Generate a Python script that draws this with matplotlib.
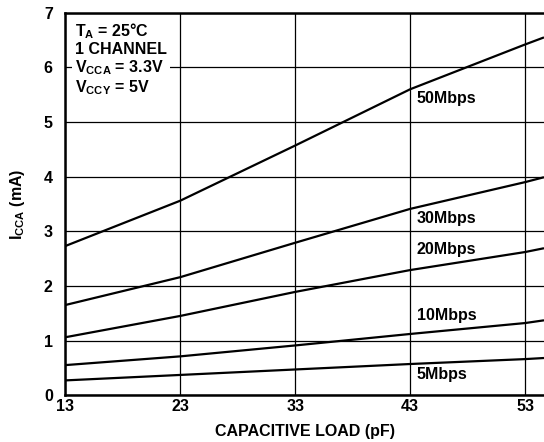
import matplotlib
matplotlib.use("Agg")
import matplotlib.pyplot as plt

plt.rcParams['font.family'] = ['Liberation Sans', 'DejaVu Sans']
plt.rcParams['font.weight'] = 'bold'
plt.rcParams['mathtext.fontset'] = 'custom'
plt.rcParams['mathtext.rm'] = 'Liberation Sans:bold'
plt.rcParams['mathtext.bf'] = 'Liberation Sans:bold'
plt.rcParams['mathtext.it'] = 'Liberation Sans:bold'
plt.rcParams['mathtext.default'] = 'rm'

# Kapazitive Last (pF) und Stromaufnahme (mA) je Datenrate
load_pf = [13, 23, 33, 43, 53, 54.65]
icc_50 = [2.73, 3.56, 4.57, 5.60, 6.42, 6.55]
icc_30 = [1.65, 2.16, 2.79, 3.41, 3.90, 3.99]
icc_20 = [1.06, 1.45, 1.89, 2.29, 2.62, 2.69]
icc_10 = [0.55, 0.71, 0.91, 1.12, 1.32, 1.37]
icc_5 = [0.27, 0.37, 0.47, 0.57, 0.66, 0.68]

series = [icc_50, icc_30, icc_20, icc_10, icc_5]
labels = ['50Mbps', '30Mbps', '20Mbps', '10Mbps', '5Mbps']
label_y = [5.44, 3.24, 2.66, 1.45, 0.37]

x_ticks = [13, 23, 33, 43, 53]
y_ticks = [0, 1, 2, 3, 4, 5, 6, 7]

fig = plt.figure(figsize=(5.44, 4.42), dpi=100)
ax = fig.add_axes([0.12, 0.106, 0.88, 0.865])

for vals in series:
    ax.plot(load_pf, vals, color='black', lw=1.6, solid_capstyle='butt')

for lab, yy in zip(labels, label_y):
    ax.text(43.6, yy, lab, fontsize=11.5, fontweight='bold', va='center', ha='left')

ax.set_xlim(13, 54.65)
ax.set_ylim(0, 7)
ax.set_xticks(x_ticks)
ax.set_yticks(y_ticks)
ax.grid(True, color='black', lw=0.9)
ax.tick_params(length=0, labelsize=11.5)
ax.tick_params(axis='x', pad=3)
ax.tick_params(axis='y', pad=9)
for lab in ax.get_xticklabels() + ax.get_yticklabels():
    lab.set_fontweight('bold')

for side in ['left', 'bottom', 'top']:
    ax.spines[side].set_linewidth(1.8)
ax.spines['right'].set_visible(False)

ax.set_xlabel('CAPACITIVE LOAD (pF)', fontsize=11.5, fontweight='bold', labelpad=7)
ax.set_ylabel('I$_{CCA}$ (mA)', fontsize=11.5, fontweight='bold', labelpad=12)

info = 'T$_{A}$ = 25°C\n1 CHANNEL\nV$_{CCA}$ = 3.3V\nV$_{CCY}$ = 5V'
ax.text(13.85, 6.85, info, fontsize=11.5, fontweight='bold', va='top', ha='left',
        linespacing=1.1, zorder=5,
        bbox=dict(facecolor='white', edgecolor='none', pad=2))

fig.savefig('out.png', dpi=100)
